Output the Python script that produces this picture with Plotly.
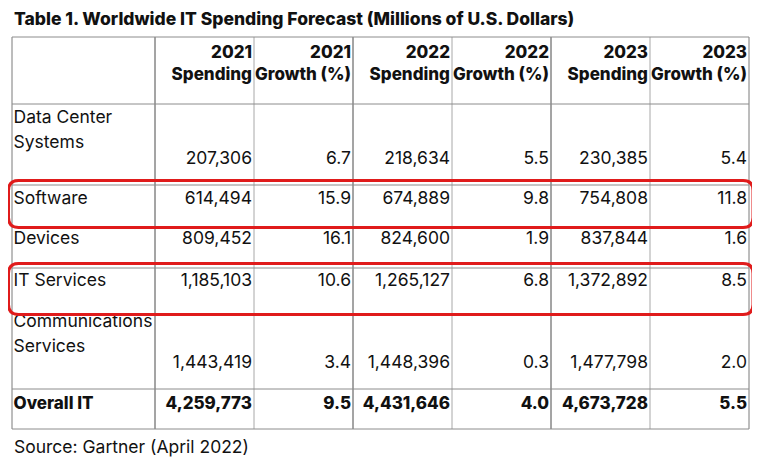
import plotly.graph_objects as go

# ---------------- data ----------------
title_text = "Table 1. Worldwide IT Spending Forecast (Millions of U.S. Dollars)"
source_text = "Source: Gartner (April 2022)"

categories = ["Data Center<br>Systems", "Software", "Devices", "IT Services",
              "Communications<br>Services", "Overall IT"]
header_years = ["2021", "2021", "2022", "2022", "2023", "2023"]
header_metrics = ["Spending", "Growth (%)", "Spending", "Growth (%)", "Spending", "Growth (%)"]

spending_2021 = [207306, 614494, 809452, 1185103, 1443419, 4259773]
growth_2021 = [6.7, 15.9, 16.1, 10.6, 3.4, 9.5]
spending_2022 = [218634, 674889, 824600, 1265127, 1448396, 4431646]
growth_2022 = [5.5, 9.8, 1.9, 6.8, 0.3, 4.0]
spending_2023 = [230385, 754808, 837844, 1372892, 1477798, 4673728]
growth_2023 = [5.4, 11.8, 1.6, 8.5, 2.0, 5.5]

highlighted = ["Software", "IT Services"]
bold_rows = ["Overall IT"]

# ---------------- layout / style constants ----------------
W, H = 760, 460
PAGE_MARGIN = 8            # default body margin of the written html page
table_left = 12
table_top = 37
col_widths = [143, 99, 99, 99, 99, 99, 99]
header_height = 67
row_heights = [81, 42, 41, 46, 75, 40]
label_pad = [14.5, 14.5, 13, 13.5, 9, 16]   # first text line centre below row top
line_step = 25
header_line_offsets = [16.5, 38.5]
cell_pad_right = 2
cell_pad_left = 1.5

FONT = "Inter"
TEXT_COLOR = "#111111"
BODY_SIZE = 17.5
BOLD_SIZE = 17
TITLE_SIZE = 17.5
RED = "#e01b1b"
DARK_LINE = "#4a4a4a"
LIGHT_LINE = "#a8a8a8"
MID_LINE = "#7a7a7a"
H_LINE = "#8c8c8c"

# ---------------- derived geometry ----------------
col_edges = [table_left]
for w in col_widths:
    col_edges.append(col_edges[-1] + w)
row_edges = [table_top, table_top + header_height]
for h in row_heights:
    row_edges.append(row_edges[-1] + h)
table_right = col_edges[-1]
table_bottom = row_edges[-1]

value_columns = [spending_2021, growth_2021, spending_2022, growth_2022,
                 spending_2023, growth_2023]


def fmt(v, col):
    return f"{v:,}" if col % 2 == 0 else f"{v:.1f}"


reg = {"x": [], "y": [], "t": [], "p": []}
bold = {"x": [], "y": [], "t": [], "p": []}


def add(store, x, y, t, p):
    store["x"].append(x)
    store["y"].append(y)
    store["t"].append(t)
    store["p"].append(p)


# header
for c in range(6):
    xr = col_edges[c + 2] - cell_pad_right
    add(bold, xr, table_top + header_line_offsets[0], header_years[c], "middle left")
    add(bold, xr, table_top + header_line_offsets[1], header_metrics[c], "middle left")

# body
for r, cat in enumerate(categories):
    top = row_edges[r + 1]
    bottom = row_edges[r + 2]
    lines = cat.split("<br>")
    store = bold if cat in bold_rows else reg
    y0 = top + label_pad[r]
    for k, ln in enumerate(lines):
        add(store, table_left + cell_pad_left, y0 + k * line_step, ln, "middle right")
    vy = y0 if len(lines) == 1 else bottom - line_step
    for c, col in enumerate(value_columns):
        add(store, col_edges[c + 2] - cell_pad_right, vy, fmt(col[r], c), "middle left")

fig = go.Figure()
for store, weight, size in [(reg, 400, BODY_SIZE), (bold, 800, BOLD_SIZE)]:
    fig.add_trace(go.Scatter(
        x=store["x"], y=store["y"], text=store["t"], mode="text",
        textposition=store["p"],
        textfont=dict(family=FONT, size=size, color=TEXT_COLOR, weight=weight),
        hoverinfo="skip", showlegend=False, cliponaxis=False))

shapes = []
# vertical grid lines
v_colors = ([MID_LINE]
            + [DARK_LINE if i % 2 == 1 else LIGHT_LINE for i in range(1, len(col_edges) - 1)]
            + [MID_LINE])
for xe, colr in zip(col_edges, v_colors):
    shapes.append(dict(type="line", xref="x", yref="y", x0=xe, x1=xe,
                       y0=table_top, y1=table_bottom, line=dict(color=colr, width=1)))
# horizontal grid lines
for ye in row_edges:
    shapes.append(dict(type="line", xref="x", yref="y", x0=table_left, x1=table_right,
                       y0=ye, y1=ye, line=dict(color=H_LINE, width=1)))

# red highlight boxes (rounded)
rad = 10
for r, cat in enumerate(categories):
    if cat in highlighted:
        x0, x1 = table_left - 3.5, table_right + 4
        y0, y1 = row_edges[r + 1] - 4.5, row_edges[r + 2] + 0.5
        path = (f"M {x0+rad},{y0} L {x1-rad},{y0} Q {x1},{y0} {x1},{y0+rad} "
                f"L {x1},{y1-rad} Q {x1},{y1} {x1-rad},{y1} L {x0+rad},{y1} "
                f"Q {x0},{y1} {x0},{y1-rad} L {x0},{y0+rad} Q {x0},{y0} {x0+rad},{y0} Z")
        shapes.append(dict(type="path", xref="x", yref="y", path=path,
                           line=dict(color=RED, width=3)))

annotations = [
    dict(text=title_text, x=table_left, y=18, xref="x", yref="y", xanchor="left",
         yanchor="middle", showarrow=False,
         font=dict(family=FONT, size=TITLE_SIZE, color=TEXT_COLOR, weight=800)),
    dict(text=source_text, x=table_left, y=446, xref="x", yref="y", xanchor="left",
         yanchor="middle", showarrow=False,
         font=dict(family=FONT, size=BODY_SIZE, color=TEXT_COLOR)),
]

fig.update_layout(
    width=W, height=H, margin=dict(l=0, r=0, t=0, b=0),
    paper_bgcolor="white", plot_bgcolor="white",
    xaxis=dict(range=[PAGE_MARGIN, W + PAGE_MARGIN], visible=False, fixedrange=True),
    yaxis=dict(range=[H + PAGE_MARGIN, PAGE_MARGIN], visible=False, fixedrange=True),
    shapes=shapes, annotations=annotations,
)

fig.write_html("out.html")
